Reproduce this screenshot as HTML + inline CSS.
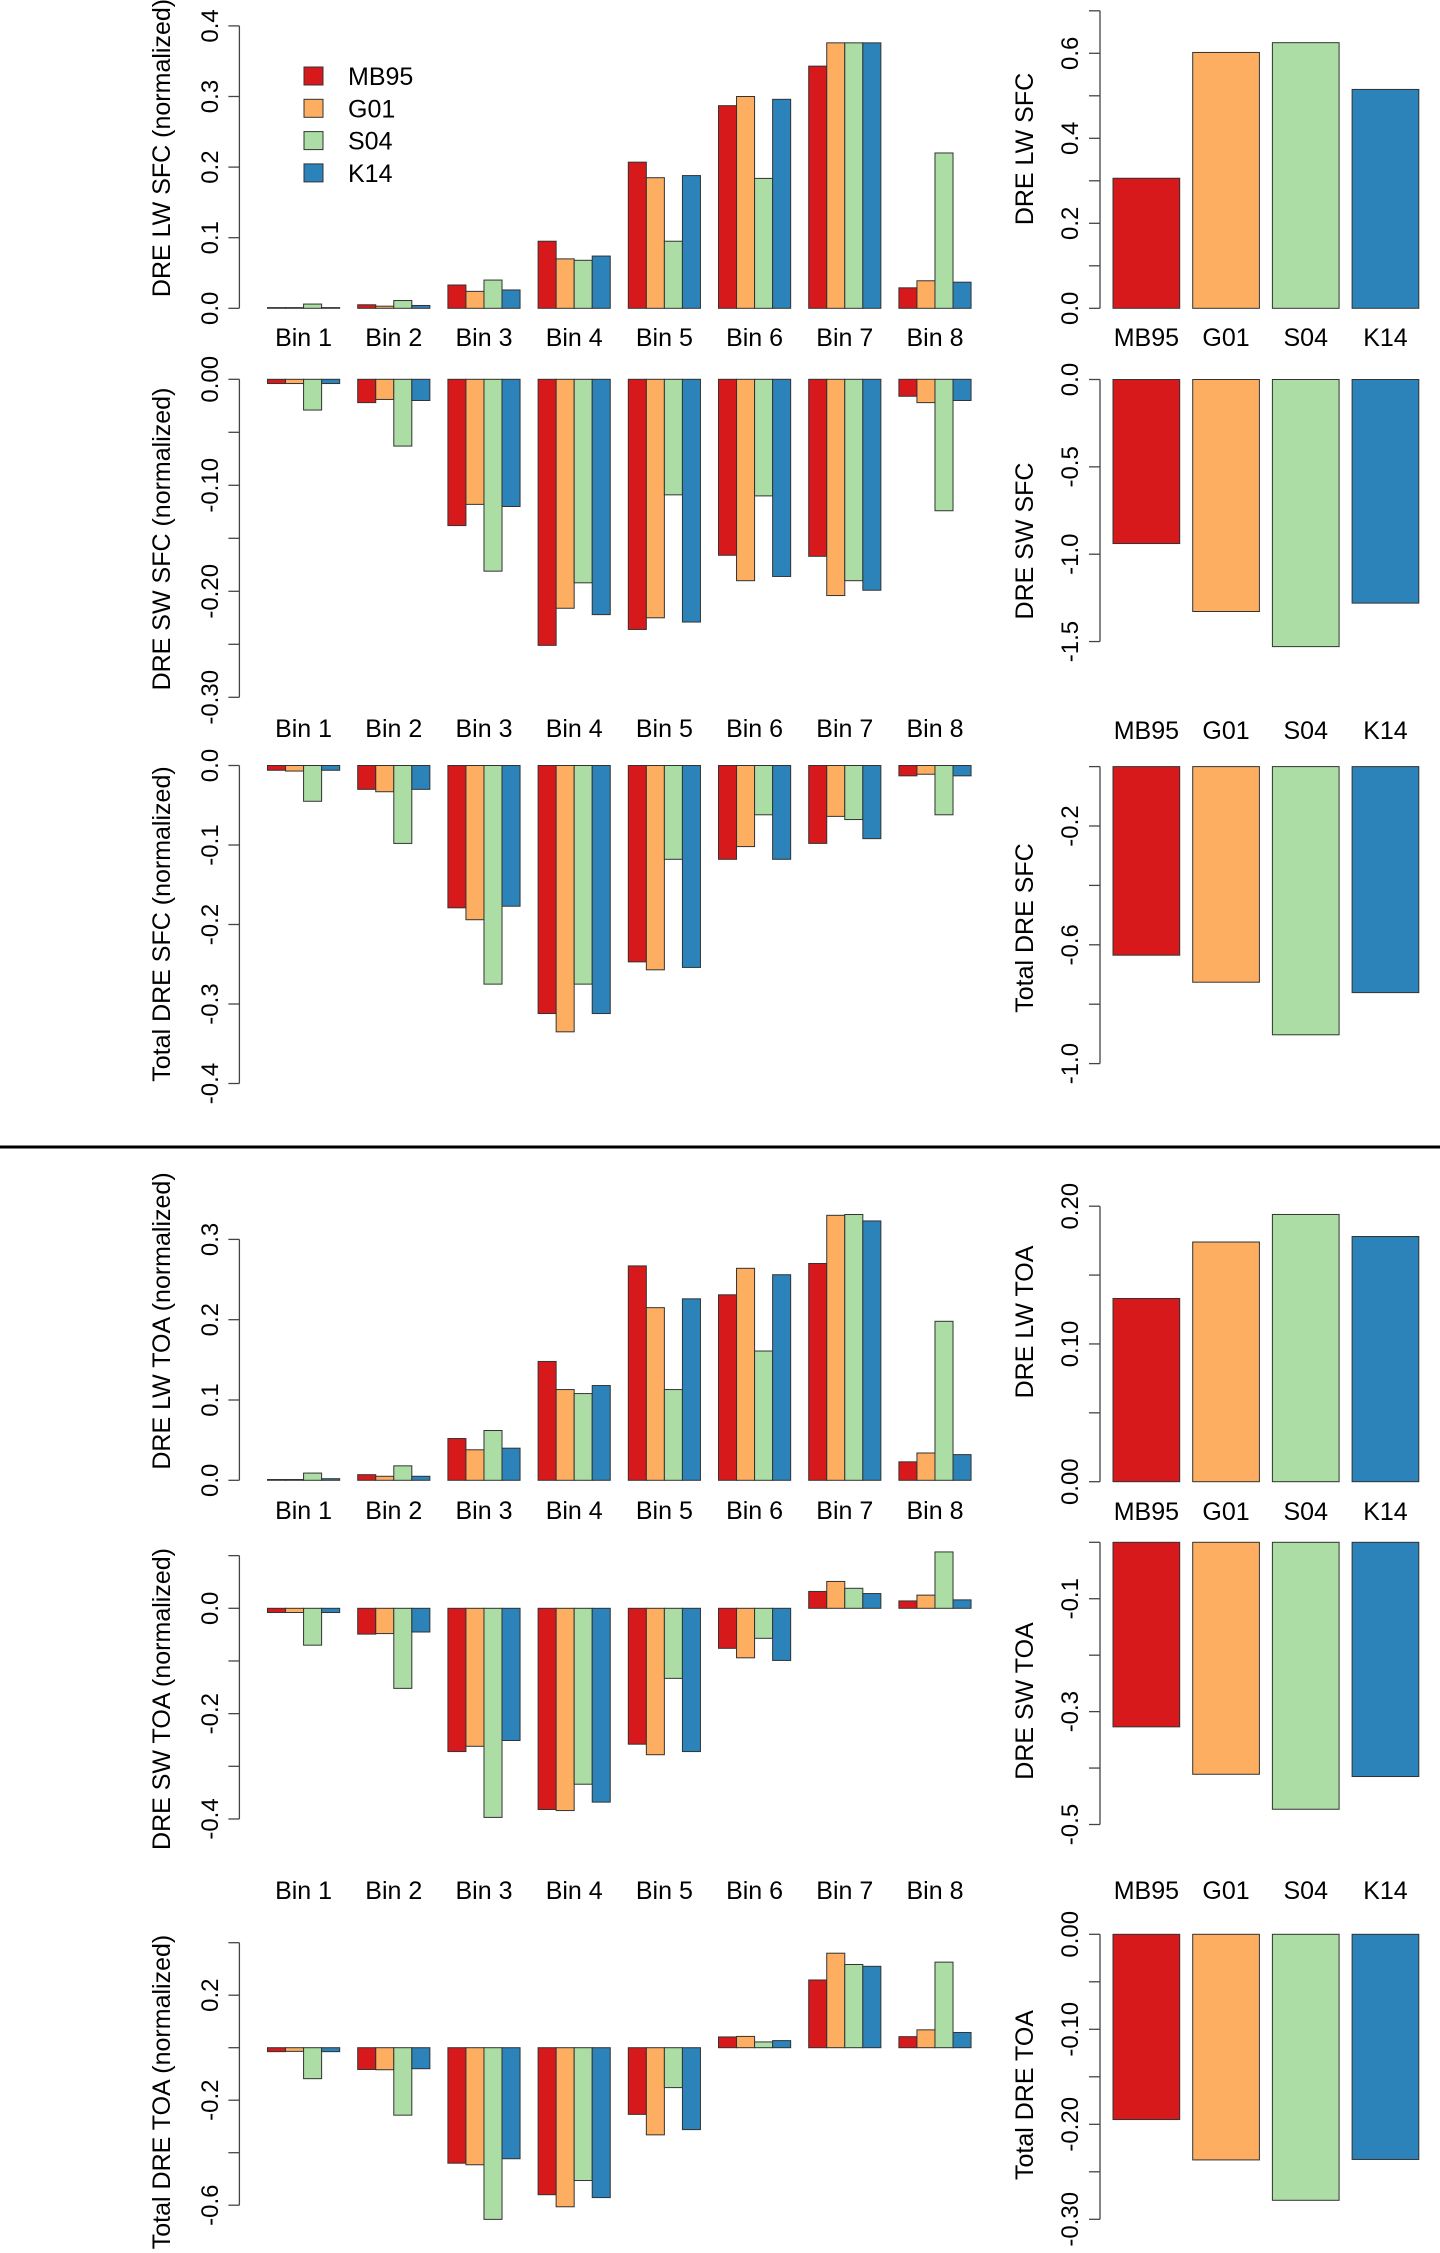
<!DOCTYPE html>
<html><head><meta charset="utf-8"><style>
html,body{margin:0;padding:0;background:#fff;}
svg{display:block;font-family:"Liberation Sans",Arial,sans-serif;}
</style></head><body>
<svg id="chart" width="1440" height="2253" viewBox="0 0 1440 2253" xmlns="http://www.w3.org/2000/svg"></svg>
<script>
const bins = ["Bin 1","Bin 2","Bin 3","Bin 4","Bin 5","Bin 6","Bin 7","Bin 8"];
const models = ["MB95","G01","S04","K14"];
const colors = ["#D7191C","#FDAE61","#ABDDA4","#2B83BA"];

// DRE LW SFC (normalized)
const lwSfcMB95 = [0.001,0.005,0.033,0.095,0.207,0.287,0.343,0.029];
const lwSfcG01  = [0.001,0.003,0.024,0.070,0.185,0.300,0.376,0.039];
const lwSfcS04  = [0.006,0.011,0.040,0.068,0.095,0.184,0.376,0.220];
const lwSfcK14  = [0.001,0.004,0.026,0.074,0.188,0.296,0.376,0.037];
// DRE SW SFC (normalized)
const swSfcMB95 = [-0.004,-0.022,-0.138,-0.251,-0.236,-0.166,-0.167,-0.016];
const swSfcG01  = [-0.004,-0.019,-0.118,-0.216,-0.225,-0.190,-0.204,-0.022];
const swSfcS04  = [-0.029,-0.063,-0.181,-0.192,-0.109,-0.110,-0.190,-0.124];
const swSfcK14  = [-0.004,-0.020,-0.120,-0.222,-0.229,-0.186,-0.199,-0.020];
// Total DRE SFC (normalized)
const totSfcMB95 = [-0.006,-0.030,-0.179,-0.312,-0.247,-0.118,-0.098,-0.013];
const totSfcG01  = [-0.007,-0.033,-0.194,-0.335,-0.257,-0.102,-0.064,-0.011];
const totSfcS04  = [-0.045,-0.098,-0.275,-0.275,-0.118,-0.062,-0.068,-0.062];
const totSfcK14  = [-0.006,-0.030,-0.177,-0.312,-0.254,-0.118,-0.092,-0.013];
// DRE LW TOA (normalized)
const lwToaMB95 = [0.001,0.007,0.052,0.148,0.267,0.231,0.270,0.023];
const lwToaG01  = [0.001,0.005,0.038,0.113,0.215,0.264,0.330,0.034];
const lwToaS04  = [0.009,0.018,0.062,0.108,0.113,0.161,0.331,0.198];
const lwToaK14  = [0.002,0.005,0.040,0.118,0.226,0.256,0.323,0.032];
// DRE SW TOA (normalized)
const swToaMB95 = [-0.008,-0.049,-0.272,-0.382,-0.258,-0.076,0.032,0.014];
const swToaG01  = [-0.008,-0.048,-0.262,-0.384,-0.278,-0.094,0.051,0.025];
const swToaS04  = [-0.070,-0.152,-0.397,-0.334,-0.133,-0.057,0.038,0.107];
const swToaK14  = [-0.008,-0.045,-0.251,-0.368,-0.272,-0.099,0.028,0.016];
// Total DRE TOA (normalized)
const totToaMB95 = [-0.015,-0.083,-0.440,-0.560,-0.254,0.041,0.258,0.042];
const totToaG01  = [-0.014,-0.084,-0.446,-0.606,-0.332,0.043,0.360,0.068];
const totToaS04  = [-0.118,-0.257,-0.654,-0.506,-0.152,0.022,0.317,0.326];
const totToaK14  = [-0.015,-0.080,-0.423,-0.571,-0.312,0.027,0.310,0.058];

// Summed totals (right panels)
const lwSfcTotal  = [0.306,0.602,0.625,0.515];
const swSfcTotal  = [-0.939,-1.328,-1.529,-1.280];
const totSfcTotal = [-0.635,-0.726,-0.903,-0.761];
const lwToaTotal  = [0.133,0.174,0.194,0.178];
const swToaTotal  = [-0.327,-0.411,-0.473,-0.415];
const totToaTotal = [-0.195,-0.2375,-0.280,-0.237];

// tick values / labels
const p1Ticks=[0,0.1,0.2,0.3,0.4], p1Labels=["0.0","0.1","0.2","0.3","0.4"];
const p2Ticks=[0,-0.05,-0.1,-0.15,-0.2,-0.25,-0.3], p2Labels=["0.00","","-0.10","","-0.20","","-0.30"];
const p3Ticks=[0,-0.1,-0.2,-0.3,-0.4], p3Labels=["0.0","-0.1","-0.2","-0.3","-0.4"];
const p4Ticks=[0,0.1,0.2,0.3], p4Labels=["0.0","0.1","0.2","0.3"];
const p5Ticks=[0.1,0,-0.1,-0.2,-0.3,-0.4], p5Labels=["","0.0","","-0.2","","-0.4"];
const p6Ticks=[0.4,0.2,0,-0.2,-0.4,-0.6], p6Labels=["","0.2","","-0.2","","-0.6"];
const r1Ticks=[0,0.1,0.2,0.3,0.4,0.5,0.6,0.7], r1Labels=["0.0","","0.2","","0.4","","0.6",""];
const r2Ticks=[0,-0.5,-1,-1.5], r2Labels=["0.0","-0.5","-1.0","-1.5"];
const r3Ticks=[0,-0.2,-0.4,-0.6,-0.8,-1.0], r3Labels=["","-0.2","","-0.6","","-1.0"];
const r4Ticks=[0,0.05,0.1,0.15,0.2], r4Labels=["0.00","","0.10","","0.20"];
const r5Ticks=[0,-0.1,-0.2,-0.3,-0.4,-0.5], r5Labels=["","-0.1","","-0.3","","-0.5"];
const r6Ticks=[0,-0.05,-0.1,-0.15,-0.2,-0.25,-0.3], r6Labels=["0.00","","-0.10","","-0.20","","-0.30"];

const NS="http://www.w3.org/2000/svg";
const svg=document.getElementById('chart');
function mk(tag,attrs,parent){const e=document.createElementNS(NS,tag);for(const k in attrs)e.setAttribute(k,attrs[k]);(parent||svg).appendChild(e);return e;}

function yAxis(g,x,scale,ticks,labels,labelX){
  const ys=ticks.map(scale);
  const ax=mk('line',{x1:x,x2:x,y1:Math.min(...ys),y2:Math.max(...ys),stroke:'#444','stroke-width':1.3},g);
  
  
  ticks.forEach((t,i)=>{
    const y=scale(t);
    const tk=mk('line',{x1:x-11,x2:x,y1:y,y2:y,stroke:'#444','stroke-width':1.3},g);
    
    
    if(labels[i]){
      const tx=mk('text',{x:labelX,y:y,'font-size':24,'text-anchor':'middle',fill:'#000',transform:`rotate(-90 ${labelX} ${y})`},g);
      tx.textContent=labels[i];
      
      
    }
  });
}
function yTitle(g,x,cy,txt){
  const t=mk('text',{x:x,y:cy,'font-size':25,'text-anchor':'middle',fill:'#000',transform:`rotate(-90 ${x} ${cy})`},g);
  t.textContent=txt;
  
  
}
function bar(g,x,w,y0,y1,color){
  const r=mk('rect',{x:x,y:Math.min(y0,y1),width:w,height:Math.max(Math.abs(y1-y0),0.5),fill:color,stroke:'#333','stroke-width':1},g);
  return r;
}

// Left grouped panels
const LX=239.4, L0=267.5, BW=18.04, GSTEP=90.2;
function leftPanel(name,zeroY,ppu,series,ticks,labels,title,titleY,binLabelY){
  const g=mk('g',{});
  
  
  const sc=v=>zeroY-v*ppu;
  series.forEach((arr,s)=>{
    arr.forEach((v,b)=>{
      const r=bar(g,L0+b*GSTEP+s*BW,BW,sc(0),sc(v),colors[s]);
      
      
    });
  });
  yAxis(g,LX,sc,ticks,labels,218);
  yTitle(g,170,titleY,title);
  if(binLabelY){
    bins.forEach((bn,b)=>{
      const t=mk('text',{x:L0+b*GSTEP+2*BW,y:binLabelY,'font-size':25,'text-anchor':'middle',fill:'#000'},g);
      t.textContent=bn;
      
      
    });
  }
}
// Right total panels
const RX=1100, R0=1113, RBW=66.7, RSTEP=79.7;
function rightPanel(name,zeroY,ppu,vals,ticks,labels,title,titleY,catLabelY){
  const g=mk('g',{});
  
  
  const sc=v=>zeroY-v*ppu;
  vals.forEach((v,i)=>{
    const r=bar(g,R0+i*RSTEP,RBW,sc(0),sc(v),colors[i]);
    
    
  });
  yAxis(g,RX,sc,ticks,labels,1078);
  yTitle(g,1033,titleY,title);
  if(catLabelY){
    models.forEach((m,i)=>{
      const t=mk('text',{x:R0+i*RSTEP+RBW/2,y:catLabelY,'font-size':25,'text-anchor':'middle',fill:'#000'},g);
      t.textContent=m;
      
      
    });
  }
}

leftPanel('lw-sfc-panel',308.3,706,[lwSfcMB95,lwSfcG01,lwSfcS04,lwSfcK14],p1Ticks,p1Labels,'DRE LW SFC (normalized)',148,346);
leftPanel('sw-sfc-panel',379.3,1060,[swSfcMB95,swSfcG01,swSfcS04,swSfcK14],p2Ticks,p2Labels,'DRE SW SFC (normalized)',539,737);
leftPanel('total-sfc-panel',765.5,795,[totSfcMB95,totSfcG01,totSfcS04,totSfcK14],p3Ticks,p3Labels,'Total DRE SFC (normalized)',924,null);
leftPanel('lw-toa-panel',1480.3,803,[lwToaMB95,lwToaG01,lwToaS04,lwToaK14],p4Ticks,p4Labels,'DRE LW TOA (normalized)',1321,1519);
leftPanel('sw-toa-panel',1608.3,526.7,[swToaMB95,swToaG01,swToaS04,swToaK14],p5Ticks,p5Labels,'DRE SW TOA (normalized)',1699,1899);
leftPanel('total-toa-panel',2047.7,262.5,[totToaMB95,totToaG01,totToaS04,totToaK14],p6Ticks,p6Labels,'Total DRE TOA (normalized)',2092,null);

rightPanel('lw-sfc-total-panel',308.3,425,lwSfcTotal,r1Ticks,r1Labels,'DRE LW SFC',149,346);
rightPanel('sw-sfc-total-panel',379.5,174.7,swSfcTotal,r2Ticks,r2Labels,'DRE SW SFC',541,739);
rightPanel('total-sfc-total-panel',766.6,297,totSfcTotal,r3Ticks,r3Labels,'Total DRE SFC',928,null);
rightPanel('lw-toa-total-panel',1481.7,1377.5,lwToaTotal,r4Ticks,r4Labels,'DRE LW TOA',1322,1520);
rightPanel('sw-toa-total-panel',1542.3,564.4,swToaTotal,r5Ticks,r5Labels,'DRE SW TOA',1701,1899);
rightPanel('total-toa-total-panel',1934.3,950,totToaTotal,r6Ticks,r6Labels,'Total DRE TOA',2095,null);

// legend
const lg=mk('g',{});


models.forEach((m,i)=>{
  const cy=76+i*32.3;
  const r=mk('rect',{x:304,y:cy-9,width:19,height:18,fill:colors[i],stroke:'#333','stroke-width':1},lg);
  
  
  const t=mk('text',{x:348,y:cy+9,'font-size':25,fill:'#000'},lg);
  t.textContent=m;
  
  
});

// separator
const sep=mk('line',{x1:0,x2:1440,y1:1147,y2:1147,stroke:'#000','stroke-width':3});


</script>
</body></html>
